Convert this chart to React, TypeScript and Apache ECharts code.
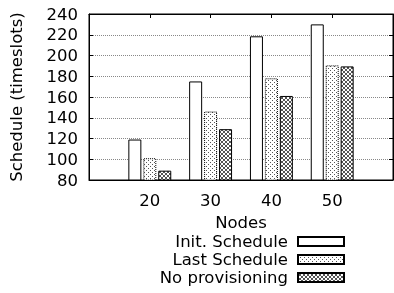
import React, { useEffect, useRef } from "react";
import * as echarts from "echarts";

const nodes = [20, 30, 40, 50];
const initSchedule = [119, 175, 218.5, 230];
const lastSchedule = [101, 146, 178, 190.5];
const noProvisioning = [89, 129, 161, 189.5];
const seriesNames = ["Init. Schedule", "Last Schedule", "No provisioning"];
const yTicks = { min: 80, max: 240, step: 20 };
const xRange = { min: 10, max: 60, step: 10 };

function makePattern(kind: "dots" | "hatch") {
  const size = kind === "dots" ? 8 : 4;
  const c = document.createElement("canvas");
  c.width = size;
  c.height = size;
  const ctx = c.getContext("2d")!;
  ctx.fillStyle = "#ffffff";
  ctx.fillRect(0, 0, size, size);
  if (kind === "dots") {
    ctx.fillStyle = "#555555";
    const sel = [[4, 0], [2, 2], [0, 4], [2, 6], [6, 6], [6, 2], [4, 4], [0, 0]];
    sel.forEach(([x, y]) => ctx.fillRect(x, y, 1, 1));
  } else {
    ctx.fillStyle = "#555555";
    for (let i = 0; i < size; i++) {
      ctx.fillRect(i, i, 1, 1);
      ctx.fillRect(size - 1 - i, i, 1, 1);
    }
  }
  return {
    image: c.toDataURL(),
    repeat: "repeat",
    imageWidth: size,
    imageHeight: size,
  } as any;
}

export default function App() {
  const ref = useRef<HTMLDivElement>(null);
  useEffect(() => {
    if (!ref.current) return;
    const chart = echarts.init(ref.current, undefined, { renderer: "svg" });
    const font = "DejaVu Sans";
    const fs = 16.5;
    const dots = makePattern("dots");
    const hatch = makePattern("hatch");
    const values = [initSchedule, lastSchedule, noProvisioning];
    const fills: any[] = ["#ffffff", dots, hatch];
    const borderTypes: any[] = ["solid", "dotted", "solid"];
    const tickOpts = { show: true, inside: true, length: 4, lineStyle: { color: "#000" } };
    chart.setOption({
      animation: false,
      textStyle: { fontFamily: font },
      grid: {
        left: 88,
        right: 1,
        top: 14,
        bottom: 113,
        show: true,
        borderColor: "#000",
        borderWidth: 1,
        backgroundColor: "transparent",
      },
      legend: {
        orient: "vertical",
        right: 49,
        top: 233,
        height: 60,
        padding: 0,
        align: "right",
        itemWidth: 46,
        itemHeight: 9,
        itemGap: 1,
        icon: "rect",
        textStyle: { fontFamily: font, fontSize: fs, color: "#000", padding: [0, 5, 0, 0] },
        data: seriesNames,
      },
      xAxis: [
        {
          type: "value",
          min: xRange.min,
          max: xRange.max,
          interval: xRange.step,
          name: "Nodes",
          nameLocation: "middle",
          nameGap: 34,
          nameTextStyle: { fontFamily: font, fontSize: fs, color: "#000" },
          axisLine: { show: true, lineStyle: { color: "#000" } },
          axisTick: { ...tickOpts, customValues: nodes },
          axisLabel: {
            fontFamily: font,
            fontSize: fs,
            color: "#000",
            margin: 12,
            customValues: nodes,
            formatter: (v: number) => (nodes.includes(v) ? String(v) : ""),
          },
          splitLine: { show: false },
        },
        {
          type: "value",
          position: "top",
          min: xRange.min,
          max: xRange.max,
          interval: xRange.step,
          axisLine: { show: true, lineStyle: { color: "#000" } },
          axisTick: { ...tickOpts, customValues: nodes },
          axisLabel: { show: false },
          splitLine: { show: false },
        },
      ],
      yAxis: [
        {
          type: "value",
          min: yTicks.min,
          max: yTicks.max,
          interval: yTicks.step,
          name: "Schedule (timeslots)",
          nameLocation: "middle",
          nameGap: 64,
          nameTextStyle: { fontFamily: font, fontSize: fs, color: "#000" },
          axisLine: { show: true, lineStyle: { color: "#000" } },
          axisTick: tickOpts,
          axisLabel: { fontFamily: font, fontSize: fs, color: "#000", margin: 11 },
          splitLine: { show: true, lineStyle: { color: "#888", type: [1, 1], width: 1 } },
        },
        {
          type: "value",
          position: "right",
          min: yTicks.min,
          max: yTicks.max,
          interval: yTicks.step,
          axisLine: { show: true, lineStyle: { color: "#000" } },
          axisTick: tickOpts,
          axisLabel: { show: false },
          splitLine: { show: false },
        },
      ],
      series: seriesNames.map((name, i) => ({
        name,
        type: "bar",
        xAxisIndex: 0,
        yAxisIndex: 0,
        barWidth: 13,
        barGap: "15%",
        data: nodes.map((n, j) => [n, values[i][j]]),
        itemStyle: {
          color: fills[i],
          borderColor: "#000",
          borderWidth: 1,
          borderType: borderTypes[i],
        },
      })),
    });
    return () => chart.dispose();
  }, []);
  return (
    <div
      ref={ref}
      style={{ position: "fixed", left: 0, top: 0, width: 394, height: 293 }}
    />
  );
}
